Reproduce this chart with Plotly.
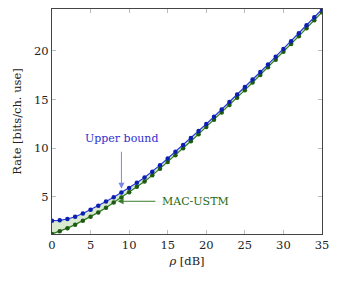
import plotly.graph_objects as go

rho_db = list(range(0, 36))
upper_bound = [2.57, 2.60, 2.74, 2.97, 3.31, 3.70, 4.11, 4.53, 4.98, 5.46,
               5.93, 6.46, 7.00, 7.60, 8.27, 8.95, 9.64, 10.34, 11.05, 11.78,
               12.50, 13.24, 13.99, 14.75, 15.51, 16.28, 17.05, 17.83, 18.61, 19.40,
               20.20, 21.00, 21.81, 22.63, 23.45, 24.27]
mac_ustm = [1.20, 1.47, 1.80, 2.16, 2.56, 2.98, 3.42, 3.90, 4.43, 4.96,
            5.48, 6.04, 6.60, 7.22, 7.90, 8.59, 9.29, 10.00, 10.72, 11.45,
            12.19, 12.93, 13.68, 14.44, 15.20, 15.97, 16.75, 17.53, 18.31, 19.10,
            19.90, 20.70, 21.51, 22.33, 23.15, 23.97]
x_ticks = [0, 5, 10, 15, 20, 25, 30, 35]
y_ticks = [5, 10, 15, 20]

FONT = "DejaVu Serif"

fig = go.Figure()
fig.add_trace(go.Scatter(
    x=rho_db, y=mac_ustm, mode="lines+markers",
    line=dict(color="#2e7d1e", width=1.2),
    marker=dict(color="#1d5a12", size=4.5, symbol="circle"),
    showlegend=False))
fig.add_trace(go.Scatter(
    x=rho_db, y=upper_bound, mode="lines+markers",
    line=dict(color="#2a3ad8", width=1.2),
    marker=dict(color="#0b1fb0", size=4.5, symbol="circle"),
    fill="tonexty", fillcolor="#d9ead0",
    showlegend=False))

# Upper bound label + arrow
fig.add_annotation(x=9.1, y=11.0, text="Upper bound", showarrow=False,
                   font=dict(family=FONT, size=11, color="#3030d0"))
fig.add_annotation(x=9, y=5.85, ax=9, ay=9.8, axref="x", ayref="y",
                   xref="x", yref="y", text="", showarrow=True,
                   arrowhead=2, arrowsize=1.2, arrowwidth=1, arrowcolor="#7a86e8")
# MAC-USTM label + arrow
fig.add_annotation(x=14.0, y=4.56, text="MAC-USTM", showarrow=False,
                   xanchor="left",
                   font=dict(family=FONT, size=11, color="#1d6a12"))
fig.add_annotation(x=8.5, y=4.56, ax=13.6, ay=4.56, axref="x", ayref="y",
                   xref="x", yref="y", text="", showarrow=True,
                   arrowhead=2, arrowsize=1.2, arrowwidth=1, arrowcolor="#3a7d2a")

axis_common = dict(showline=True, linecolor="#444444", linewidth=1, mirror="ticks",
                   ticks="inside", ticklen=4, tickcolor="#bbbbbb",
                   showgrid=False, zeroline=False, automargin=False,
                   tickfont=dict(family=FONT, size=11.5, color="#222222"))
fig.update_xaxes(range=[0, 35], tickvals=x_ticks,
                 title=dict(text="<i>ρ</i> [dB]", font=dict(family=FONT, size=11.5, color="#222222"), standoff=6),
                 **axis_common)
fig.update_yaxes(range=[1.2, 24.3], tickvals=y_ticks,
                 title=dict(text="Rate [bits/ch. use]", font=dict(family=FONT, size=11.5, color="#222222"), standoff=10),
                 **axis_common)

fig.update_layout(width=342, height=282, margin=dict(l=52, r=20, t=9, b=48),
                  plot_bgcolor="white", paper_bgcolor="white")

fig.write_html("out.html", config={"displayModeBar": False},
               post_script="document.body.style.margin='0';document.body.style.padding='0';")
